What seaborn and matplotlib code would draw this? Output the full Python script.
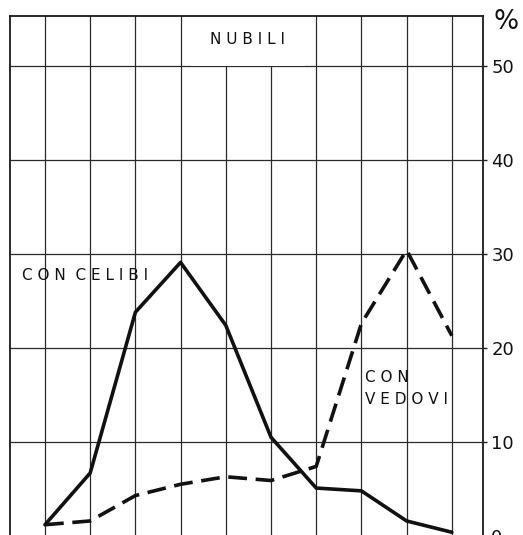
import matplotlib
matplotlib.use("Agg")
import matplotlib.pyplot as plt
import seaborn as sns
import pandas as pd

# --- data ---
classi = list(range(10))
con_celibi = [1.2, 6.7, 23.8, 29.1, 22.4, 10.5, 5.1, 4.8, 1.6, 0.4]
con_vedovi = [1.2, 1.6, 4.3, 5.5, 6.3, 5.9, 7.4, 22.6, 30.4, 21.3]
y_ticks = [0, 10, 20, 30, 40, 50]
y_tick_labels = ["0", "10", "20", "30", "40", "50"]
titolo = "N U B I L I"
label_celibi = "C O N  C E L I B I"
label_vedovi = "C O N\nV E D O V I"

df = pd.DataFrame({"classe": classi, "celibi": con_celibi, "vedovi": con_vedovi})

sns.set_style("white")
plt.rcParams["font.family"] = ["DejaVu Sans"]

fig = plt.figure(figsize=(5.23, 5.35), dpi=100)
ax = fig.add_axes([10 / 523, -1 / 535, 473 / 523, 520 / 535])

sns.lineplot(data=df, x="classe", y="celibi", ax=ax, color="#111111",
             linewidth=2.6, linestyle="-", zorder=3)
sns.lineplot(data=df, x="classe", y="vedovi", ax=ax, color="#111111",
             linewidth=2.6, linestyle=(0, (5.2, 2.4)), zorder=3)

ax.set_xlim(-0.774, 9.69)
ax.set_ylim(0, 55.3)
ax.set_xticks(classi)
ax.set_xticklabels([])
ax.set_yticks(y_ticks)
ax.set_yticklabels(y_tick_labels)
ax.yaxis.tick_right()
ax.tick_params(axis="y", length=3, width=1, color="#222222", pad=3,
               labelsize=13, labelcolor="#111111", direction="out")
ax.tick_params(axis="x", length=0)
ax.set_xlabel("")
ax.set_ylabel("")

ax.set_axisbelow(True)
ax.grid(True, color="#2a2a2a", linewidth=0.9)
for s in ax.spines.values():
    s.set_visible(True)
    s.set_color("#1a1a1a")
    s.set_linewidth(1.3)

ax.text(4.49, 52.8, titolo, ha="center", va="center", fontsize=11,
        color="#111111", zorder=2.2,
        bbox=dict(facecolor="white", edgecolor="none", pad=14))
ax.text(-0.51, 27.7, label_celibi, ha="left", va="center", fontsize=11,
        color="#111111", zorder=4)
ax.text(7.08, 15.7, label_vedovi, ha="left", va="center", fontsize=11,
        color="#111111", linespacing=1.55, zorder=4)

fig.text(506 / 523, 1 - 22 / 535, "%", ha="center", va="center",
         fontsize=19, color="#111111")

fig.savefig("out.png", dpi=100, facecolor="white")
